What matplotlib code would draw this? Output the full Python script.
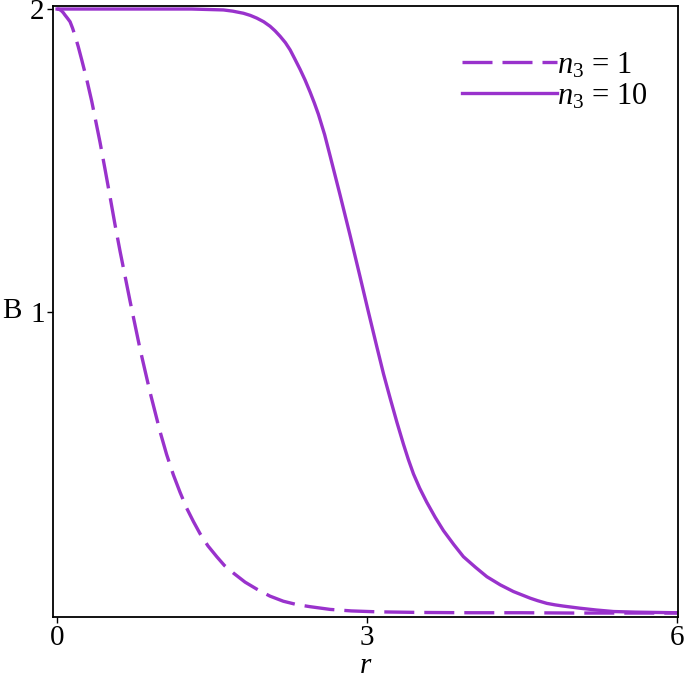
import matplotlib
matplotlib.use("Agg")
import matplotlib.pyplot as plt

plt.rcParams['font.family'] = ['Liberation Serif', 'DejaVu Serif']
plt.rcParams['mathtext.fontset'] = 'custom'
plt.rcParams['mathtext.rm'] = 'Liberation Serif'
plt.rcParams['mathtext.it'] = 'Liberation Serif:italic'

# n3 = 1 (dashed)
r_n1 = [0.0, 0.02, 0.04, 0.06, 0.077, 0.1, 0.126, 0.15, 0.174, 0.205,
        0.239, 0.287, 0.336, 0.416, 0.465, 0.513, 0.56, 0.61, 0.66, 0.707,
        0.803, 0.9, 0.997, 1.06, 1.126, 1.19, 1.255, 1.32, 1.384, 1.46,
        1.546, 1.62, 1.707, 1.82, 1.933, 2.06, 2.19, 2.32, 2.449, 2.643,
        2.85, 3.1, 3.5, 4.0, 4.5, 5.0, 5.5, 6.0]
b_n1 = [2.0, 1.999, 1.995, 1.988, 1.98, 1.97, 1.958, 1.937, 1.912, 1.876,
        1.832, 1.768, 1.695, 1.56, 1.47, 1.38, 1.29, 1.2, 1.115, 1.035,
        0.878, 0.735, 0.605, 0.53, 0.462, 0.405, 0.352, 0.308, 0.268, 0.228,
        0.192, 0.163, 0.138, 0.108, 0.085, 0.062, 0.045, 0.034, 0.027, 0.018,
        0.013, 0.010, 0.008, 0.007, 0.007, 0.006, 0.006, 0.006]

# n3 = 10 (solid)
r_n10 = [0.0, 0.5, 1.0, 1.3, 1.61, 1.7, 1.804, 1.87, 1.933, 2.0,
         2.062, 2.11, 2.159, 2.21, 2.256, 2.30, 2.352, 2.40, 2.449, 2.49,
         2.53, 2.59, 2.643, 2.69, 2.74, 2.836, 2.93, 3.01, 3.095, 3.16,
         3.224, 3.29, 3.353, 3.40, 3.45, 3.51, 3.578, 3.66, 3.74, 3.84,
         3.933, 4.05, 4.16, 4.29, 4.417, 4.58, 4.65, 4.74, 4.82, 4.9,
         5.06, 5.22, 5.386, 5.6, 5.8, 6.0]
b_n10 = [2.0, 2.0, 2.0, 2.0, 1.997, 1.993, 1.986, 1.979, 1.97, 1.958,
         1.943, 1.928, 1.91, 1.889, 1.865, 1.836, 1.801, 1.766, 1.726, 1.69,
         1.652, 1.585, 1.515, 1.452, 1.385, 1.253, 1.12, 1.005, 0.885, 0.795,
         0.715, 0.635, 0.563, 0.513, 0.465, 0.418, 0.372, 0.322, 0.278, 0.232,
         0.192, 0.157, 0.126, 0.099, 0.077, 0.055, 0.047, 0.038, 0.033, 0.029,
         0.022, 0.016, 0.011, 0.009, 0.008, 0.007]

labels = [r'$n_3$ = 1', r'$n_3$ = 10']
purple = '#9932CC'

fig = plt.figure(figsize=(6.85, 6.81), dpi=100)
ax = fig.add_axes([0.0774, 0.094, 0.9124, 0.8972])

ax.plot(r_n1, b_n1, color=purple, lw=2.4, linestyle=(0, (9, 3)),
        solid_joinstyle='round', label=labels[0])
ax.plot(r_n10, b_n10, color=purple, lw=2.4, solid_joinstyle='round',
        label=labels[1])

ax.set_xlim(-0.039, 6.01)
ax.set_ylim(-0.007, 2.01)
ax.set_xticks([0, 3, 6])
ax.set_yticks([1, 2])
ax.tick_params(direction='out', length=4, width=1, labelsize=21, pad=2)
for s in ax.spines.values():
    s.set_linewidth(1.3)

ax.set_xlabel('$r$', fontsize=21, labelpad=1)
ax.set_ylabel('B', fontsize=21, rotation=0, labelpad=13, va='center')

ax.legend(loc='upper right', bbox_to_anchor=(0.98, 0.957), frameon=False,
          fontsize=22, handlelength=3.1, handletextpad=0.0, labelspacing=0.05,
          borderaxespad=0.2)

fig.savefig('out.png', dpi=100)
